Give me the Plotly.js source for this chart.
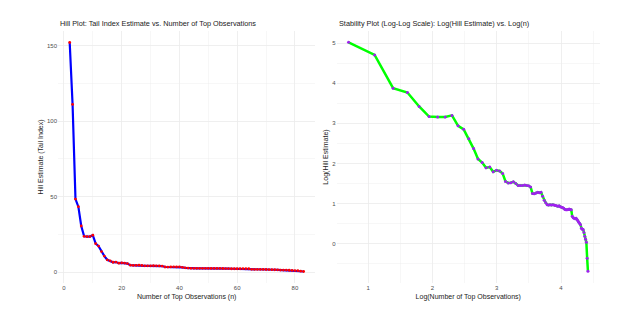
<!DOCTYPE html>
<html>
<head>
<meta charset="utf-8">
<script src="https://cdn.plot.ly/plotly-3.0.1.min.js"></script>
<style>
  body { margin: 0; background: #fff; }
  #chart { width: 627px; height: 321px; }
</style>
</head>
<body>
<div id="chart"></div>
<script>
// Número de observaciones superiores (k)
const topN = [2, 3, 4, 5, 6, 7, 8, 9, 10, 11, 12, 13, 14, 15, 16, 17, 18, 19, 20, 21,
  22, 23, 24, 25, 26, 27, 28, 29, 30, 31, 32, 33, 34, 35, 36, 37, 38, 39, 40, 41,
  42, 43, 44, 45, 46, 47, 48, 49, 50, 51, 52, 53, 54, 55, 56, 57, 58, 59, 60, 61,
  62, 63, 64, 65, 66, 67, 68, 69, 70, 71, 72, 73, 74, 75, 76, 77, 78, 79, 80, 81,
  82, 83];

// Estimador de Hill para cada k
const hillEstimate = [152, 111, 48.4, 43.4, 30.6, 23.8, 23.6, 23.6, 24.5, 18.9,
  17.3, 13.7, 10.7, 8.25, 7.54, 6.62, 6.75, 5.99, 6.23, 6.11,
  5.75, 4.71, 4.53, 4.57, 4.66, 4.48, 4.26, 4.26, 4.26, 4.31,
  4.26, 4.22, 4.10, 3.49, 3.46, 3.53, 3.60, 3.56, 3.60, 3.25,
  2.94, 2.77, 2.64, 2.61, 2.64, 2.61, 2.64, 2.61, 2.59, 2.56,
  2.53, 2.56, 2.51, 2.48, 2.46, 2.41, 2.34, 2.32, 2.32, 2.34,
  2.36, 2.34, 2.32, 1.97, 1.90, 1.88, 1.86, 1.88, 1.82, 1.77,
  1.70, 1.65, 1.60, 1.46, 1.43, 1.42, 1.32, 1.20, 1.11, 1.03,
  0.69, 0.50];

// Escala log-log para el gráfico de estabilidad
const logN = topN.map(n => Math.log(n));
const logHill = hillEstimate.map(h => Math.log(h));

const W = 627;
const gridColor = '#ebebeb';
const tickFont = { family: 'Liberation Sans, Arial, sans-serif', size: 6, color: '#4d4d4d' };
const titleFont = { family: 'Liberation Sans, Arial, sans-serif', size: 7, color: '#222' };

const hillTrace = {
  x: topN,
  y: hillEstimate,
  mode: 'lines+markers',
  type: 'scatter',
  line: { color: 'blue', width: 2.2 },
  marker: { color: 'red', size: 2.8 },
  xaxis: 'x',
  yaxis: 'y',
  hoverinfo: 'x+y'
};

const logTrace = {
  x: logN,
  y: logHill,
  mode: 'lines+markers',
  type: 'scatter',
  line: { color: '#00ff00', width: 2.5 },
  marker: { color: '#a020f0', size: 3 },
  xaxis: 'x2',
  yaxis: 'y2',
  hoverinfo: 'x+y'
};

function axisBase() {
  return {
    showline: false,
    zeroline: false,
    ticks: '',
    showgrid: true,
    gridcolor: gridColor,
    gridwidth: 0.8,
    tickfont: tickFont
  };
}

const layout = {
  width: 627,
  height: 321,
  margin: { l: 0, r: 0, t: 31, b: 38 },
  paper_bgcolor: '#fff',
  plot_bgcolor: '#fff',
  showlegend: false,
  xaxis: Object.assign(axisBase(), {
    domain: [58 / W, 315.3 / W],
    range: [-2.05, 87.05],
    tickvals: [0, 20, 40, 60, 80],
    minor: { showgrid: true, gridcolor: gridColor, gridwidth: 0.4, tickvals: [10, 30, 50, 70] },
    anchor: 'y',
    title: { text: 'Number of Top Observations (n)', font: titleFont, standoff: 4 }
  }),
  yaxis: Object.assign(axisBase(), {
    domain: [0, 1],
    range: [-7.1, 159.6],
    tickvals: [0, 50, 100, 150],
    minor: { showgrid: true, gridcolor: gridColor, gridwidth: 0.4, tickvals: [25, 75, 125] },
    anchor: 'x',
    title: { text: 'Hill Estimate (Tail Index)', font: titleFont, standoff: 2 }
  }),
  xaxis2: Object.assign(axisBase(), {
    domain: [336.6 / W, 599.9 / W],
    range: [0.507, 4.605],
    tickvals: [1, 2, 3, 4],
    minor: { showgrid: true, gridcolor: gridColor, gridwidth: 0.4, tickvals: [1.5, 2.5, 3.5, 4.5] },
    anchor: 'y2',
    title: { text: 'Log(Number of Top Observations)', font: titleFont, standoff: 4 }
  }),
  yaxis2: Object.assign(axisBase(), {
    domain: [0, 1],
    range: [-0.986, 5.306],
    tickvals: [0, 1, 2, 3, 4, 5],
    minor: { showgrid: true, gridcolor: gridColor, gridwidth: 0.4, tickvals: [-0.5, 0.5, 1.5, 2.5, 3.5, 4.5] },
    anchor: 'x2',
    title: { text: 'Log(Hill Estimate)', font: titleFont, standoff: 2 }
  }),
  annotations: [
    {
      text: 'Hill Plot: Tail Index Estimate vs. Number of Top Observations',
      xref: 'paper', yref: 'paper',
      x: 58 / W, y: 1.028,
      xanchor: 'left', yanchor: 'middle',
      showarrow: false,
      font: { family: 'Liberation Sans, Arial, sans-serif', size: 7.3, color: '#222' }
    },
    {
      text: 'Stability Plot (Log-Log Scale): Log(Hill Estimate) vs. Log(n)',
      xref: 'paper', yref: 'paper',
      x: 336.6 / W, y: 1.028,
      xanchor: 'left', yanchor: 'middle',
      showarrow: false,
      font: { family: 'Liberation Sans, Arial, sans-serif', size: 7.3, color: '#222' }
    }
  ]
};

Plotly.newPlot('chart', [hillTrace, logTrace], layout, { displayModeBar: false, staticPlot: true });
</script>
</body>
</html>
